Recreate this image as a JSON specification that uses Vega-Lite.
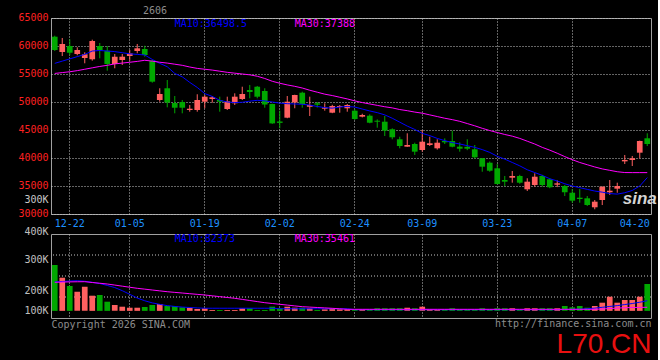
{
"$schema": "https://vega.github.io/schema/vega-lite/v6.json",
"autosize": {"type": "pad"},
"padding": {"left": 17, "top": 5, "right": 0, "bottom": 0},
"background": "#000000",
"spacing": 20,
"bounds": "flush",
"config": {
  "view": {"stroke": "#a0a0a0", "strokeWidth": 1},
  "axis": {"labelFont": "DejaVu Sans Mono", "labelFontSize": 10, "ticks": false, "domain": false, "gridColor": "#c8c8c8", "gridDash": [1, 2], "gridWidth": 1, "titleFont": "DejaVu Sans Mono", "labelOverlap": false},
  "text": {"font": "DejaVu Sans Mono", "fontSize": 10}
},
"datasets": {
  "vg": [{"g": 100000}, {"g": 200000}, {"g": 300000}],
  "k": [
{"d":"12-18","o":61660,"h":61840,"l":59110,"c":59290,"v":252400,"m10":56900,"m30":55100,"vm10":172000,"vm30":170000},
{"d":"12-19","o":58930,"h":61430,"l":58210,"c":60360,"v":191900,"m10":57300,"m30":55250,"vm10":174000,"vm30":171000},
{"d":"12-22","o":60000,"h":61200,"l":58390,"c":58800,"v":152400,"m10":57700,"m30":55400,"vm10":176000,"vm30":172000},
{"d":"12-23","o":58570,"h":59770,"l":58340,"c":59290,"v":125200,"m10":58100,"m30":55600,"vm10":177500,"vm30":172500},
{"d":"12-24","o":57860,"h":58880,"l":56910,"c":58520,"v":149100,"m10":58500,"m30":55850,"vm10":175000,"vm30":172900},
{"d":"12-25","o":57630,"h":61130,"l":57380,"c":60890,"v":106200,"m10":59100,"m30":56100,"vm10":170000,"vm30":169000},
{"d":"12-26","o":60000,"h":60540,"l":57800,"c":59290,"v":109500,"m10":59200,"m30":56350,"vm10":164000,"vm30":165500},
{"d":"12-29","o":59160,"h":60000,"l":55590,"c":56790,"v":77600,"m10":59100,"m30":56550,"vm10":155000,"vm30":161900},
{"d":"12-30","o":56790,"h":58570,"l":56020,"c":58090,"v":61900,"m10":59000,"m30":56800,"vm10":145000,"vm30":156800},
{"d":"12-31","o":57500,"h":58570,"l":56610,"c":58090,"v":53800,"m10":58800,"m30":56950,"vm10":130000,"vm30":151600},
{"d":"01-05","o":58210,"h":59290,"l":57380,"c":58690,"v":49000,"m10":58600,"m30":57100,"vm10":113000,"vm30":146500},
{"d":"01-06","o":59110,"h":60360,"l":58700,"c":59590,"v":49000,"m10":58500,"m30":57250,"vm10":95000,"vm30":141400},
{"d":"01-07","o":59460,"h":60050,"l":58090,"c":58390,"v":52400,"m10":58400,"m30":57450,"vm10":82000,"vm30":137400},
{"d":"01-08","o":57320,"h":57500,"l":53450,"c":53630,"v":61900,"m10":57600,"m30":57300,"vm10":72000,"vm30":133300},
{"d":"01-09","o":50360,"h":52450,"l":50050,"c":51430,"v":66700,"m10":56900,"m30":57100,"vm10":65000,"vm30":129200},
{"d":"01-12","o":52450,"h":53930,"l":49050,"c":49910,"v":57100,"m10":56300,"m30":56950,"vm10":59000,"vm30":125200},
{"d":"01-13","o":49820,"h":51070,"l":47980,"c":48980,"v":57100,"m10":55100,"m30":56750,"vm10":55000,"vm30":122000},
{"d":"01-14","o":50000,"h":50360,"l":47980,"c":48980,"v":50900,"m10":54500,"m30":56550,"vm10":52000,"vm30":118900},
{"d":"01-15","o":48570,"h":49460,"l":48270,"c":48800,"v":49000,"m10":53500,"m30":56250,"vm10":50000,"vm30":115700},
{"d":"01-16","o":48570,"h":51380,"l":48270,"c":50360,"v":42900,"m10":52600,"m30":56000,"vm10":48000,"vm30":112600},
{"d":"01-19","o":50050,"h":51250,"l":48880,"c":50950,"v":46200,"m10":51500,"m30":55850,"vm10":46500,"vm30":109500},
{"d":"01-20","o":50540,"h":51070,"l":49880,"c":50840,"v":38100,"m10":51000,"m30":55700,"vm10":46500,"vm30":105600},
{"d":"01-21","o":50360,"h":50950,"l":48270,"c":50050,"v":38100,"m10":50300,"m30":55500,"vm10":46500,"vm30":101700},
{"d":"01-22","o":48750,"h":50950,"l":48570,"c":50130,"v":38100,"m10":50000,"m30":55300,"vm10":46500,"vm30":97700},
{"d":"01-23","o":49770,"h":51550,"l":49460,"c":50950,"v":38100,"m10":49900,"m30":55150,"vm10":46500,"vm30":93800},
{"d":"01-26","o":50540,"h":52730,"l":50360,"c":51430,"v":46200,"m10":49950,"m30":55000,"vm10":46500,"vm30":88600},
{"d":"01-27","o":52140,"h":53040,"l":50660,"c":51790,"v":46200,"m10":50150,"m30":54850,"vm10":46500,"vm30":83400},
{"d":"01-28","o":52730,"h":52860,"l":50660,"c":50950,"v":38100,"m10":50300,"m30":54600,"vm10":46500,"vm30":78100},
{"d":"01-29","o":51960,"h":52450,"l":48980,"c":49550,"v":38100,"m10":50200,"m30":54200,"vm10":46500,"vm30":72900},
{"d":"01-30","o":49640,"h":49700,"l":46100,"c":46180,"v":53800,"m10":50000,"m30":53700,"vm10":46500,"vm30":69100},
{"d":"02-02","o":46520,"h":48450,"l":45300,"c":46270,"v":46200,"m10":49800,"m30":53350,"vm10":44000,"vm30":65300},
{"d":"02-03","o":47200,"h":51070,"l":47100,"c":50050,"v":53800,"m10":49700,"m30":53050,"vm10":44000,"vm30":61500},
{"d":"02-04","o":49910,"h":51300,"l":48880,"c":51250,"v":49000,"m10":49650,"m30":52800,"vm10":44000,"vm30":57600},
{"d":"02-05","o":51660,"h":51840,"l":48980,"c":49640,"v":49000,"m10":49600,"m30":52500,"vm10":44000,"vm30":53800},
{"d":"02-06","o":49160,"h":50950,"l":47500,"c":49460,"v":46200,"m10":49450,"m30":52100,"vm10":44000,"vm30":51900},
{"d":"02-09","o":49770,"h":50000,"l":49000,"c":49520,"v":38100,"m10":49200,"m30":51750,"vm10":44000,"vm30":50000},
{"d":"02-10","o":48800,"h":49770,"l":48450,"c":49050,"v":41400,"m10":49000,"m30":51400,"vm10":44000,"vm30":48100},
{"d":"02-11","o":48090,"h":49500,"l":48000,"c":49290,"v":46200,"m10":48900,"m30":51150,"vm10":44000,"vm30":46200},
{"d":"02-12","o":49110,"h":49460,"l":48090,"c":49290,"v":41400,"m10":49100,"m30":50850,"vm10":44000,"vm30":43800},
{"d":"02-13","o":48880,"h":49640,"l":48270,"c":49460,"v":41400,"m10":49200,"m30":50550,"vm10":44000,"vm30":41400},
{"d":"02-24","o":48450,"h":48700,"l":46790,"c":46960,"v":41400,"m10":49100,"m30":50200,"vm10":39500,"vm30":41400},
{"d":"02-25","o":47380,"h":47900,"l":47250,"c":47680,"v":41400,"m10":48750,"m30":49900,"vm10":39500,"vm30":41400},
{"d":"02-26","o":47550,"h":47800,"l":46200,"c":46300,"v":41400,"m10":48400,"m30":49650,"vm10":39500,"vm30":41400},
{"d":"02-27","o":46660,"h":46900,"l":45410,"c":46480,"v":46200,"m10":48100,"m30":49400,"vm10":39500,"vm30":41400},
{"d":"03-02","o":46480,"h":47500,"l":43930,"c":44880,"v":46200,"m10":47700,"m30":49150,"vm10":39500,"vm30":41400},
{"d":"03-03","o":45130,"h":45300,"l":43340,"c":43700,"v":46200,"m10":47100,"m30":48950,"vm10":39500,"vm30":41400},
{"d":"03-04","o":43340,"h":43800,"l":41730,"c":42140,"v":46200,"m10":46400,"m30":48650,"vm10":39500,"vm30":41400},
{"d":"03-05","o":42020,"h":44410,"l":42000,"c":42320,"v":49000,"m10":45700,"m30":48450,"vm10":39500,"vm30":41400},
{"d":"03-06","o":42500,"h":42730,"l":40540,"c":41130,"v":46200,"m10":45100,"m30":48200,"vm10":39500,"vm30":41400},
{"d":"03-09","o":41430,"h":45000,"l":41130,"c":42910,"v":53800,"m10":44400,"m30":48000,"vm10":39500,"vm30":41400},
{"d":"03-10","o":42320,"h":43800,"l":42140,"c":42630,"v":41400,"m10":44000,"m30":47700,"vm10":39500,"vm30":41400},
{"d":"03-11","o":41730,"h":43340,"l":41500,"c":42730,"v":38100,"m10":43500,"m30":47400,"vm10":39500,"vm30":41400},
{"d":"03-12","o":43040,"h":43500,"l":42500,"c":42800,"v":41400,"m10":43100,"m30":47100,"vm10":39500,"vm30":41400},
{"d":"03-13","o":43040,"h":44880,"l":41910,"c":42020,"v":46200,"m10":42750,"m30":46850,"vm10":39500,"vm30":41400},
{"d":"03-16","o":42020,"h":42800,"l":41130,"c":41660,"v":41400,"m10":42500,"m30":46550,"vm10":39500,"vm30":41400},
{"d":"03-17","o":42000,"h":43340,"l":41400,"c":41660,"v":41400,"m10":42200,"m30":46150,"vm10":39500,"vm30":41400},
{"d":"03-18","o":41550,"h":42320,"l":39900,"c":40130,"v":41400,"m10":41900,"m30":45750,"vm10":39500,"vm30":41400},
{"d":"03-19","o":39950,"h":40000,"l":37550,"c":38450,"v":46200,"m10":41500,"m30":45300,"vm10":39500,"vm30":41400},
{"d":"03-20","o":39160,"h":39380,"l":37550,"c":37730,"v":41400,"m10":41000,"m30":44900,"vm10":39500,"vm30":41400},
{"d":"03-23","o":38160,"h":38930,"l":35300,"c":35360,"v":46200,"m10":40300,"m30":44550,"vm10":39500,"vm30":41400},
{"d":"03-24","o":36070,"h":36790,"l":35000,"c":35770,"v":46200,"m10":39800,"m30":44200,"vm10":39500,"vm30":41400},
{"d":"03-25","o":36480,"h":37680,"l":35590,"c":36790,"v":46200,"m10":39200,"m30":43900,"vm10":39500,"vm30":41400},
{"d":"03-26","o":36790,"h":37000,"l":35400,"c":35590,"v":38100,"m10":38600,"m30":43500,"vm10":39500,"vm30":41400},
{"d":"03-27","o":34410,"h":36380,"l":34110,"c":35770,"v":46200,"m10":37900,"m30":43000,"vm10":39500,"vm30":41400},
{"d":"03-30","o":35180,"h":37270,"l":34880,"c":36660,"v":46200,"m10":37400,"m30":42500,"vm10":39500,"vm30":41400},
{"d":"03-31","o":36790,"h":37000,"l":34880,"c":35180,"v":46200,"m10":36900,"m30":41900,"vm10":39500,"vm30":41400},
{"d":"04-01","o":36200,"h":36380,"l":34600,"c":34770,"v":46200,"m10":36300,"m30":41400,"vm10":39500,"vm30":41400},
{"d":"04-02","o":35230,"h":36000,"l":34800,"c":35480,"v":46200,"m10":35900,"m30":40850,"vm10":39500,"vm30":41400},
{"d":"04-03","o":35000,"h":35180,"l":33210,"c":33880,"v":57100,"m10":35400,"m30":40250,"vm10":40500,"vm30":41400},
{"d":"04-07","o":33800,"h":34460,"l":32020,"c":32380,"v":50900,"m10":35000,"m30":39700,"vm10":41500,"vm30":41400},
{"d":"04-08","o":32910,"h":34460,"l":32020,"c":32680,"v":57100,"m10":34700,"m30":39200,"vm10":42000,"vm30":41400},
{"d":"04-09","o":32800,"h":33210,"l":31430,"c":31610,"v":49000,"m10":34400,"m30":38800,"vm10":44000,"vm30":41400},
{"d":"04-10","o":31200,"h":32500,"l":30840,"c":32200,"v":57100,"m10":34100,"m30":38400,"vm10":47000,"vm30":41400},
{"d":"04-13","o":32500,"h":34900,"l":31600,"c":34880,"v":72900,"m10":33900,"m30":38050,"vm10":51000,"vm30":43000},
{"d":"04-14","o":33880,"h":36070,"l":33400,"c":34160,"v":101400,"m10":33650,"m30":37800,"vm10":55000,"vm30":45000},
{"d":"04-15","o":34520,"h":35590,"l":33800,"c":35000,"v":72900,"m10":33550,"m30":37550,"vm10":59000,"vm30":47000},
{"d":"04-16","o":39400,"h":40540,"l":38930,"c":39650,"v":85700,"m10":33800,"m30":37400,"vm10":64000,"vm30":49000},
{"d":"04-17","o":39640,"h":40360,"l":38570,"c":39950,"v":85700,"m10":34200,"m30":37390,"vm10":69000,"vm30":50000},
{"d":"04-20","o":40950,"h":43100,"l":39950,"c":43040,"v":101400,"m10":35000,"m30":37390,"vm10":75000,"vm30":50500},
{"d":"04-21","o":43520,"h":44410,"l":42140,"c":42500,"v":161900,"m10":36500,"m30":37388,"vm10":82400,"vm30":51000}
  ]
},
"vconcat": [
{
  "width": 600, "height": 196,
  "title": {"text": "2606", "anchor": "start", "dx": 125, "offset": -4, "color": "#8c8c8c", "font": "DejaVu Sans Mono", "fontSize": 10, "fontWeight": "normal"},
  "layer": [
    {"data": {"name": "k"}, "mark": {"type": "rule", "strokeWidth": 1},
     "encoding": {
       "x": {"field": "d", "type": "ordinal", "sort": null,
             "scale": {"type": "band", "paddingInner": 0, "paddingOuter": 0, "domain": ["12-18","12-19","12-22","12-23","12-24","12-25","12-26","12-29","12-30","12-31","01-05","01-06","01-07","01-08","01-09","01-12","01-13","01-14","01-15","01-16","01-19","01-20","01-21","01-22","01-23","01-26","01-27","01-28","01-29","01-30","02-02","02-03","02-04","02-05","02-06","02-09","02-10","02-11","02-12","02-13","02-24","02-25","02-26","02-27","03-02","03-03","03-04","03-05","03-06","03-09","03-10","03-11","03-12","03-13","03-16","03-17","03-18","03-19","03-20","03-23","03-24","03-25","03-26","03-27","03-30","03-31","04-01","04-02","04-03","04-07","04-08","04-09","04-10","04-13","04-14","04-15","04-16","04-17","04-20","04-21"]},
             "axis": {"values": ["12-22","01-05","01-19","02-02","02-24","03-09","03-23","04-07","04-20"], "title": null, "labelColor": "#1e90ff", "labelAngle": 0, "labelPadding": 4, "grid": true, "labelOverlap": false,
                      "gridOpacity": {"condition": {"test": "datum.value == '04-20'", "value": 0}, "value": 1},
                      "labelOffset": {"condition": {"test": "datum.value == '04-20'", "value": -5}, "value": 0}}},
       "y": {"field": "l", "type": "quantitative", "title": null,
             "scale": {"domain": [30000, 65000], "nice": false, "zero": false},
             "axis": {"values": [30000, 32410, 35000, 40000, 45000, 50000, 55000, 60000, 65000], "tickCount": 50, "labelOverlap": false,
                      "labelExpr": "datum.value == 32410 ? '300K' : format(datum.value, 'd')",
                      "labelColor": {"condition": {"test": "datum.value == 32410", "value": "#c8c8c8"}, "value": "#ff2020"},
                      "gridOpacity": {"condition": {"test": "datum.value == 32410", "value": 0}, "value": 1},
                      "labelOffset": -1, "labelPadding": 3, "grid": true}},
       "y2": {"field": "h"},
       "color": {"condition": {"test": "datum.c > datum.o", "value": "#ff6060"}, "value": "#00a800"}
     }},
    {"data": {"name": "k"}, "mark": {"type": "bar", "width": {"band": 0.76}},
     "encoding": {
       "x": {"field": "d", "type": "ordinal", "sort": null},
       "y": {"field": "o", "type": "quantitative", "title": null, "scale": {"domain": [30000, 65000], "nice": false, "zero": false}},
       "y2": {"field": "c"},
       "color": {"condition": {"test": "datum.c > datum.o", "value": "#ff6060"}, "value": "#00a800"}
     }},
    {"data": {"name": "k"}, "mark": {"type": "line", "color": "#0000ff", "strokeWidth": 1},
     "encoding": {
       "x": {"field": "d", "type": "ordinal", "sort": null},
       "y": {"field": "m10", "type": "quantitative", "title": null, "scale": {"domain": [30000, 65000], "nice": false, "zero": false}}
     }},
    {"data": {"name": "k"}, "mark": {"type": "line", "color": "#ff00ff", "strokeWidth": 1},
     "encoding": {
       "x": {"field": "d", "type": "ordinal", "sort": null},
       "y": {"field": "m30", "type": "quantitative", "title": null, "scale": {"domain": [30000, 65000], "nice": false, "zero": false}}
     }},
    {"data": {"values": [{}]}, "mark": {"type": "text", "align": "left", "baseline": "middle", "color": "#0000ff", "text": "MA10:36498.5"},
     "encoding": {"x": {"datum": "01-13", "type": "ordinal"}, "y": {"datum": 64000, "type": "quantitative"}}},
    {"data": {"values": [{}]}, "mark": {"type": "text", "align": "left", "baseline": "middle", "color": "#ff00ff", "text": "MA30:37388"},
     "encoding": {"x": {"datum": "02-04", "type": "ordinal"}, "y": {"datum": 64000, "type": "quantitative"}}},
    {"data": {"values": [{}]}, "mark": {"type": "text", "align": "center", "baseline": "middle", "color": "#d4d4d4", "text": "sina", "font": "Liberation Sans", "fontSize": 17, "fontStyle": "italic", "fontWeight": "bold"},
     "encoding": {"x": {"datum": "04-20", "type": "ordinal"}, "y": {"datum": 32600, "type": "quantitative"}}}
  ]
},
{
  "width": 600, "height": 84,
  "title": {"text": "http://finance.sina.com.cn", "orient": "bottom", "anchor": "end", "color": "#8c8c8c", "font": "DejaVu Sans Mono", "fontSize": 10, "fontWeight": "normal", "offset": 0, "dy": -10,
            "subtitle": "L70.CN", "subtitleColor": "#e81010", "subtitleFont": "Liberation Sans", "subtitleFontSize": 28, "subtitlePadding": 2},
  "layer": [
    {"data": {"name": "vg"}, "mark": {"type": "rule", "color": "#c8c8c8", "strokeDash": [1, 2], "strokeWidth": 1},
     "encoding": {"y": {"field": "g", "type": "quantitative", "title": null, "scale": {"domain": [0, 400000], "nice": false, "zero": false}}}},
    {"data": {"name": "k"}, "mark": {"type": "bar", "width": {"band": 0.76}},
     "encoding": {
       "x": {"field": "d", "type": "ordinal", "sort": null,
             "scale": {"type": "band", "paddingInner": 0, "paddingOuter": 0, "domain": ["12-18","12-19","12-22","12-23","12-24","12-25","12-26","12-29","12-30","12-31","01-05","01-06","01-07","01-08","01-09","01-12","01-13","01-14","01-15","01-16","01-19","01-20","01-21","01-22","01-23","01-26","01-27","01-28","01-29","01-30","02-02","02-03","02-04","02-05","02-06","02-09","02-10","02-11","02-12","02-13","02-24","02-25","02-26","02-27","03-02","03-03","03-04","03-05","03-06","03-09","03-10","03-11","03-12","03-13","03-16","03-17","03-18","03-19","03-20","03-23","03-24","03-25","03-26","03-27","03-30","03-31","04-01","04-02","04-03","04-07","04-08","04-09","04-10","04-13","04-14","04-15","04-16","04-17","04-20","04-21"]},
             "axis": {"values": ["12-22","01-05","01-19","02-02","02-24","03-09","03-23","04-07","04-20"], "labels": false, "grid": true,
                      "gridOpacity": {"condition": {"test": "datum.value == '04-20'", "value": 0}, "value": 1},
                      "title": "Copyright 2026 SINA.COM", "titleColor": "#8c8c8c", "titleFontSize": 10, "titleFontWeight": "normal",
                      "titleAnchor": "start", "titleAlign": "left", "titleX": 0, "titleY": 6, "titleBaseline": "middle"}},
       "y": {"field": "v", "type": "quantitative", "title": null,
             "scale": {"domain": [0, 400000], "nice": false, "zero": false},
             "axis": {"values": [20500, 115700, 264300, 400000], "tickCount": 50, "labelOverlap": false,
                      "labelExpr": "datum.value >= 400000 ? '400K' : datum.value > 200000 ? '300K' : datum.value > 100000 ? '200K' : '100K'",
                      "labelColor": "#c0c0c0", "labelOffset": -3, "labelPadding": 3, "grid": false}},
       "y2": {"datum": 34000},
       "color": {"condition": {"test": "datum.c > datum.o", "value": "#ff6060"}, "value": "#00a800"}
     }},
    {"data": {"name": "k"}, "mark": {"type": "line", "color": "#0000ff", "strokeWidth": 1},
     "encoding": {
       "x": {"field": "d", "type": "ordinal", "sort": null},
       "y": {"field": "vm10", "type": "quantitative", "title": null, "scale": {"domain": [0, 400000], "nice": false, "zero": false}}
     }},
    {"data": {"name": "k"}, "mark": {"type": "line", "color": "#ff00ff", "strokeWidth": 1},
     "encoding": {
       "x": {"field": "d", "type": "ordinal", "sort": null},
       "y": {"field": "vm30", "type": "quantitative", "title": null, "scale": {"domain": [0, 400000], "nice": false, "zero": false}}
     }},
    {"data": {"values": [{}]}, "mark": {"type": "text", "align": "left", "baseline": "middle", "color": "#0000ff", "text": "MA10:82373"},
     "encoding": {"x": {"datum": "01-13", "type": "ordinal"}, "y": {"datum": 375000, "type": "quantitative"}}},
    {"data": {"values": [{}]}, "mark": {"type": "text", "align": "left", "baseline": "middle", "color": "#ff00ff", "text": "MA30:35461"},
     "encoding": {"x": {"datum": "02-04", "type": "ordinal"}, "y": {"datum": 375000, "type": "quantitative"}}}
  ]
}
]
}
